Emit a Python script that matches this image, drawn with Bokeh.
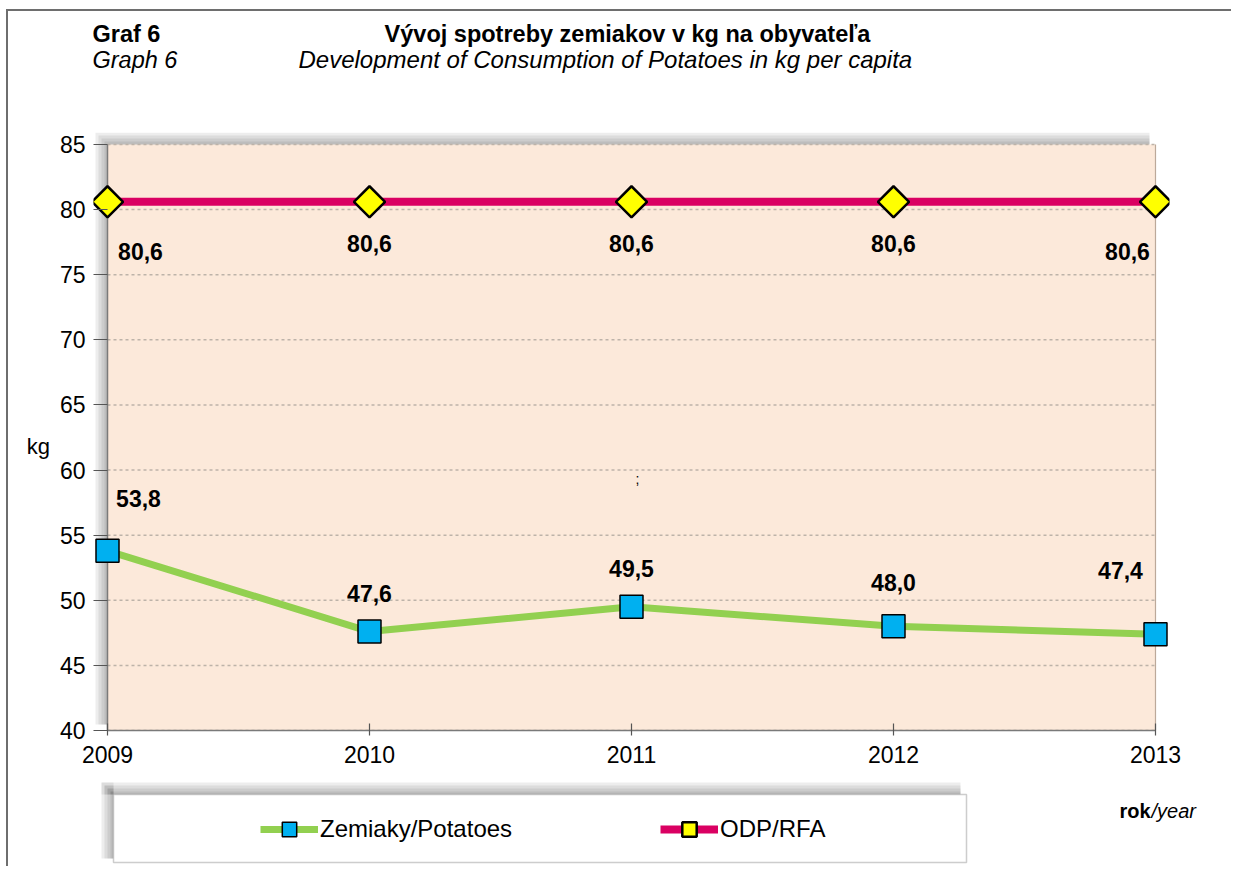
from bokeh.plotting import figure
from bokeh.layouts import column
from bokeh.models import (Range1d, FixedTicker, Legend, LegendItem, BoxAnnotation,
                          ColumnDataSource, Label)
from bokeh.core.properties import value
from bokeh.embed import file_html
from bokeh.resources import INLINE

# ---- data ----
years = [2009, 2010, 2011, 2012, 2013]
potatoes = [53.8, 47.6, 49.5, 48.0, 47.4]
odp_rfa = [80.6, 80.6, 80.6, 80.6, 80.6]
y_ticks = [40, 45, 50, 55, 60, 65, 70, 75, 80, 85]
x_ticks = [2009, 2010, 2011, 2012, 2013]
series_names = ["Zemiaky/Potatoes", "ODP/RFA"]
title_sk = "Vývoj spotreby zemiakov v kg na obyvateľa"
title_en = "Development of Consumption  of Potatoes in kg per capita"

# label offsets (screen px, +down)
pot_dx = [31, 0, 0, 0, -35]
pot_dy = [-52, -38, -38, -44, -64]
odp_dx = [33, 0, 0, 0, -28]
odp_dy = [50, 42, 42, 42, 50]

FONT = "Liberation Sans"
OX, OY = 8, 11           # content origin (image px)
WC = 1231 - OX           # content width
MAIN_Y0, MAIN_Y1 = 132, 780
BOT_Y1 = 866
FL, FT, FR, FB = 107, 144, 1155, 730  # plot area (2009..2013, 40..85) in image px
PAD = 14                               # extra frame room so edge markers are not cut
PX_PER_YEAR = (FR - FL) / (x_ticks[-1] - x_ticks[0])
PX_PER_KG = (FB - FT) / (y_ticks[-1] - y_ticks[0])
EPS = PAD / PX_PER_YEAR
EPSY = (FT - MAIN_Y0) / PX_PER_KG

GREEN, BLUE = "#92D050", "#00B0F0"
MAGENTA, YELLOW = "#DA0062", "#FFFF00"
PEACH = "#FCE9DA"
AXIS = "#7A7A7A"


def strip_fig(y0, y1):
    f = figure(width=WC, height=y1 - y0, output_backend="svg", toolbar_location=None,
               x_range=Range1d(OX, OX + WC), y_range=Range1d(y1, y0),
               x_axis_location=None, y_axis_location=None,
               min_border=0, min_border_left=0, min_border_right=0,
               min_border_top=0, min_border_bottom=0)
    f.grid.grid_line_color = None
    f.outline_line_color = None
    f.background_fill_color = "white"
    f.border_fill_color = "white"
    try:
        f.frame_align = False
    except Exception:
        pass
    return f


def txt(f, x, y, t, size="22px", style="normal", align="left"):
    f.add_layout(Label(x=x, y=y, text=t, text_font=FONT, text_font_size=size,
                       text_font_style=style, text_align=align, text_baseline="middle",
                       text_color="black"))


# ---------------- title strip ----------------
top = strip_fig(OY, MAIN_Y0)
txt(top, 92, 33, "Graf 6", size="23.5px", style="bold")
txt(top, 92, 59, "Graph 6", size="23.5px", style="italic")
txt(top, 627, 33, title_sk, size="23.5px", style="bold", align="center")
txt(top, 298, 59, title_en, size="24px", style="italic")

# ---------------- main plot ----------------
p = figure(width=WC, height=MAIN_Y1 - MAIN_Y0, output_backend="svg", toolbar_location=None,
           x_range=Range1d(x_ticks[0] - EPS, x_ticks[-1] + EPS),
           y_range=Range1d(y_ticks[0], y_ticks[-1] + EPSY),
           min_border_left=FL - PAD - OX, min_border_right=OX + WC - FR - PAD,
           min_border_top=0, min_border_bottom=MAIN_Y1 - FB)
p.background_fill_color = "white"
p.border_fill_color = "white"
p.outline_line_color = None
p.grid.grid_line_color = None

# plot area background, shadow and dotted gridlines
p.add_layout(BoxAnnotation(left=x_ticks[0], right=x_ticks[-1], bottom=y_ticks[0],
                           top=y_ticks[-1], fill_color=PEACH, fill_alpha=1,
                           line_color=None, level="underlay"))
for d in (12, 9, 6, 3):
    p.add_layout(BoxAnnotation(left=x_ticks[0] - d / PX_PER_YEAR, right=x_ticks[0],
                               bottom=y_ticks[0] + 6 / PX_PER_KG, top=y_ticks[-1],
                               fill_color="black", fill_alpha=0.07, line_color=None,
                               level="underlay"))
    p.add_layout(BoxAnnotation(left=x_ticks[0] - d / PX_PER_YEAR,
                               right=x_ticks[-1] - 6 / PX_PER_YEAR,
                               bottom=y_ticks[-1], top=y_ticks[-1] + d / PX_PER_KG,
                               fill_color="black", fill_alpha=0.07, line_color=None,
                               level="underlay"))
n = len(y_ticks)
p.segment(x0=[x_ticks[0]] * n, x1=[x_ticks[-1]] * n, y0=y_ticks, y1=y_ticks,
          line_color="#BDB3A9", line_dash="3 3", line_width=1.5)
p.segment(x0=[x_ticks[-1]], x1=[x_ticks[-1]], y0=[y_ticks[0]], y1=[y_ticks[-1]],
          line_color="#BCA99A", line_width=1.2)
p.segment(x0=[x_ticks[0]], x1=[x_ticks[0]], y0=[y_ticks[0]], y1=[y_ticks[-1]],
          line_color=AXIS, line_width=1.5)

p.yaxis.ticker = FixedTicker(ticks=y_ticks)
p.xaxis.ticker = FixedTicker(ticks=x_ticks)
p.xaxis.bounds = (x_ticks[0], x_ticks[-1])
for ax in (p.xaxis, p.yaxis):
    ax.axis_line_color = AXIS
    ax.axis_line_width = 1.5
    ax.major_tick_line_color = "#555555"
    ax.major_tick_line_width = 1.2
    ax.minor_tick_line_color = None
    ax.major_label_text_font = FONT
    ax.major_label_text_font_size = "23px"
    ax.major_label_text_color = "black"
p.yaxis.axis_line_color = None
p.yaxis.major_tick_out = 0
p.yaxis.major_tick_in = PAD
p.yaxis.major_label_standoff = 8
p.yaxis.axis_label = " \nkg"
p.yaxis.axis_label_orientation = "horizontal"
p.yaxis.axis_label_standoff = 7
p.yaxis.axis_label_text_font = FONT
p.yaxis.axis_label_text_font_size = "22px"
p.yaxis.axis_label_text_font_style = "normal"
p.yaxis.axis_label_text_color = "black"
p.xaxis.major_tick_in = 7
p.xaxis.major_tick_out = 5
p.xaxis.major_label_standoff = 10

src_p = ColumnDataSource(dict(x=years, y=potatoes,
                              t=[f"{v:.1f}".replace(".", ",") for v in potatoes],
                              dx=pot_dx, dy=pot_dy))
src_o = ColumnDataSource(dict(x=years, y=odp_rfa,
                              t=[f"{v:.1f}".replace(".", ",") for v in odp_rfa],
                              dx=odp_dx, dy=odp_dy))

line_p = dict(line_color=GREEN, line_width=7)
mark_p = dict(marker="square", size=23, fill_color=BLUE, line_color="black", line_width=1.5)
line_o = dict(line_color=MAGENTA, line_width=8)
mark_o = dict(marker="square", angle=0.785398, size=22, fill_color=YELLOW,
              line_color="black", line_width=2.5)

p.line("x", "y", source=src_p, **line_p)
p.scatter("x", "y", source=src_p, **mark_p)
p.line("x", "y", source=src_o, **line_o)
p.scatter("x", "y", source=src_o, **mark_o)

for src in (src_p, src_o):
    p.text("x", "y", text="t", source=src, x_offset="dx", y_offset="dy",
           text_align="center", text_baseline="middle", text_font=value(FONT),
           text_font_style="bold", text_font_size="23px", text_color="black")

# stray mark present in the original chart
p.add_layout(Label(x=2011.023, y=59.35, text=";", text_font=FONT, text_font_size="14px",
                   text_align="center", text_baseline="middle", text_color="black"))

# ---------------- legend strip ----------------
bot = strip_fig(MAIN_Y1, BOT_Y1)
LL, LT, LR, LB = 113, 794, 966, 862
for d in (12, 9, 6, 3):
    bot.add_layout(BoxAnnotation(left=LL - d, right=LL, top=LT - d, bottom=LB - 4,
                                 fill_color="black", fill_alpha=0.07, line_color=None))
    bot.add_layout(BoxAnnotation(left=LL - d, right=LR - 6, top=LT - d, bottom=LT,
                                 fill_color="black", fill_alpha=0.07, line_color=None))
bot.add_layout(BoxAnnotation(left=LL, right=LR, top=LT, bottom=LB, fill_color="white",
                             fill_alpha=1, line_color="#595959", line_width=1.5))

# legend proxies: same series, they fall outside this strip's ranges
lg1 = bot.line("x", "y", source=src_p, **line_p)
lm1 = bot.scatter("x", "y", source=src_p, **mark_p)
lg2 = bot.line("x", "y", source=src_o, **line_o)
lm2 = bot.scatter("x", "y", source=src_o, **mark_o)

legend = Legend(items=[LegendItem(label=series_names[0], renderers=[lg1, lm1]),
                       LegendItem(label=series_names[1], renderers=[lg2, lm2])],
                orientation="horizontal", location=(260 - OX, BOT_Y1 - 847),
                padding=0, margin=0, spacing=148, glyph_width=58, glyph_height=36,
                label_standoff=2, label_text_font=FONT, label_text_font_size="24px",
                label_text_color="black",
                background_fill_alpha=0, border_line_color=None)
bot.add_layout(legend)

txt(bot, 1119, 810, "rok", size="20px", style="bold")
txt(bot, 1151, 810, "/year", size="20px", style="italic")

layout = column(top, p, bot, spacing=0,
                styles={"margin-left": "6px", "margin-top": "9px",
                        "border-left": "2px solid #6E6E6E", "border-top": "2px solid #6E6E6E"})

open("out.html", "w").write(file_html(layout, INLINE))
